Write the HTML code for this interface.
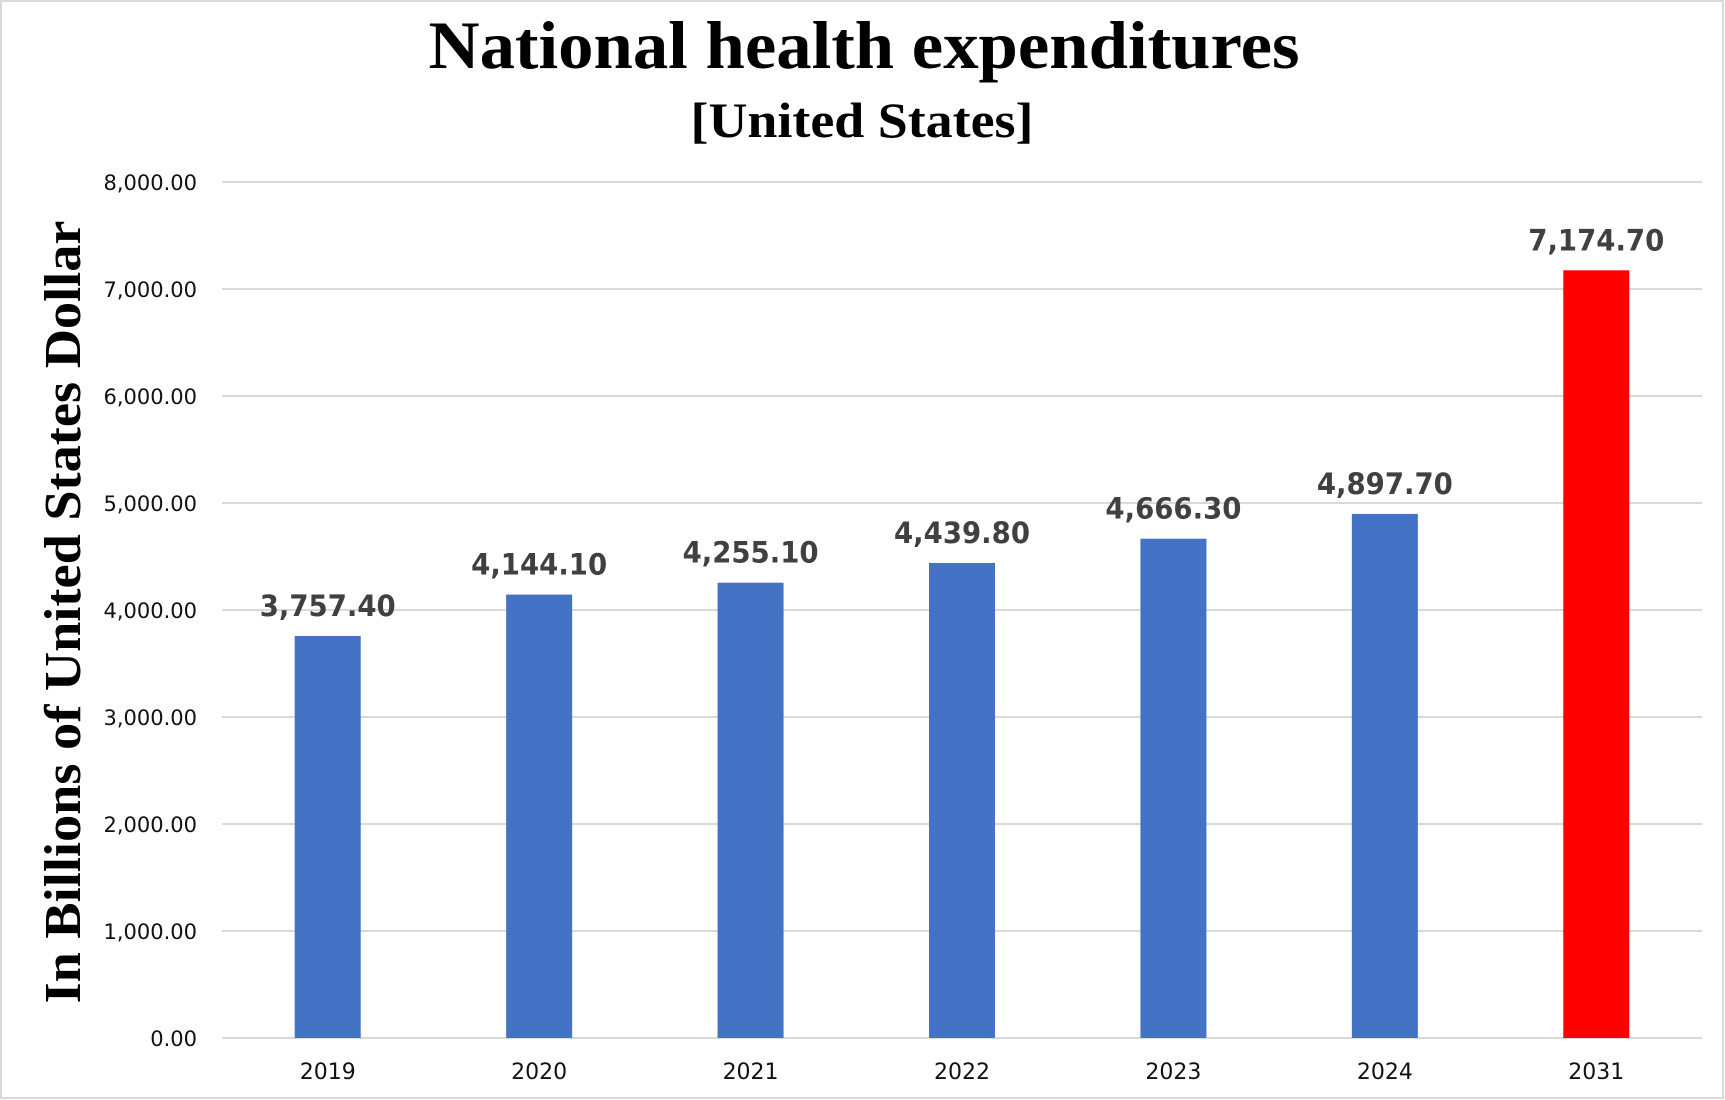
<!DOCTYPE html>
<html><head><meta charset="utf-8"><style>
html,body{margin:0;padding:0;background:#fff}
svg{display:block}
</style></head><body>
<svg id="chart" width="1725" height="1100" viewBox="0 0 1725 1100" xmlns="http://www.w3.org/2000/svg">
<rect x="1" y="1" width="1722" height="1097" fill="#fff" stroke="#d9d9d9" stroke-width="2"/>
<text x="864" y="68" text-anchor="middle" font-family="Liberation Serif, serif" font-weight="bold" font-size="68" textLength="871" lengthAdjust="spacingAndGlyphs">National health expenditures</text>
<text x="862" y="137" text-anchor="middle" font-family="Liberation Serif, serif" font-weight="bold" font-size="50" textLength="343" lengthAdjust="spacingAndGlyphs">[United States]</text>
<text transform="translate(80,612) rotate(-90)" text-anchor="middle" font-family="Liberation Serif, serif" font-weight="bold" font-size="52" textLength="783" lengthAdjust="spacingAndGlyphs">In Billions of United States Dollar</text>
<g id="grid"></g><g id="bars"></g><g id="labels"></g>
</svg>
<script>
const categories = ["2019","2020","2021","2022","2023","2024","2031"];
const values = [3757.4,4144.1,4255.1,4439.8,4666.3,4897.7,7174.7];
const valueLabels = ["3,757.40","4,144.10","4,255.10","4,439.80","4,666.30","4,897.70","7,174.70"];
const yTicks = [0,1000,2000,3000,4000,5000,6000,7000,8000];
const yTickLabels = ["0.00","1,000.00","2,000.00","3,000.00","4,000.00","5,000.00","6,000.00","7,000.00","8,000.00"];
const barColors = ["#4472c4","#4472c4","#4472c4","#4472c4","#4472c4","#4472c4","#ff0000"];

const NS="http://www.w3.org/2000/svg";
const L=222,R=1702,T=182,B=1038,yMax=8000;
const y=v=>B-(v/yMax)*(B-T);
const band=(R-L)/categories.length;
const xc=i=>L+band*(i+0.5);
const bw=66;
function mk(tag,attrs,parent){const e=document.createElementNS(NS,tag);for(const k in attrs)e.setAttribute(k,attrs[k]);parent.appendChild(e);return e;}
const grid=document.getElementById('grid'),bars=document.getElementById('bars'),labels=document.getElementById('labels');
yTicks.forEach((t,i)=>{
  const ln=mk('line',{x1:L,x2:R,y1:y(t),y2:y(t),stroke:'#d9d9d9','stroke-width':2},grid);
  
  
  const tx=mk('text',{x:197,y:y(t)+8,'text-anchor':'end','font-family':'DejaVu Sans, Liberation Sans, sans-serif','font-size':21,fill:'#111'},grid);
  tx.textContent=yTickLabels[i];
  
  
});
categories.forEach((c,i)=>{
  const r=mk('rect',{x:xc(i)-bw/2,y:y(values[i]),width:bw,height:B-y(values[i]),fill:barColors[i]},bars);
  
  
  const v=mk('text',{x:xc(i),y:y(values[i])-20,'text-anchor':'middle','font-family':'DejaVu Sans, Liberation Sans, sans-serif','font-weight':'bold','font-size':29,fill:'#404040',textLength:136,lengthAdjust:'spacingAndGlyphs'},labels);
  v.textContent=valueLabels[i];
  
  
  const xl=mk('text',{x:xc(i),y:1079,'text-anchor':'middle','font-family':'DejaVu Sans, Liberation Sans, sans-serif','font-size':22,fill:'#111'},labels);
  xl.textContent=c;
  
  
});
</script>
</body></html>
